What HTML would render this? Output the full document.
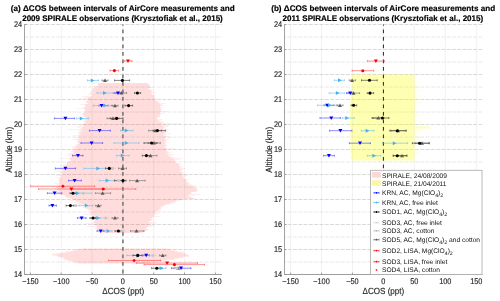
<!DOCTYPE html>
<html><head><meta charset="utf-8"><style>
html,body{margin:0;padding:0;background:#fff;}
svg{display:block;font-family:"Liberation Sans",sans-serif;will-change:transform;text-rendering:geometricPrecision;}
.t{stroke:#262626;stroke-width:0.14;}
</style></head><body>
<svg width="500" height="301" viewBox="0 0 500 301">
<rect width="500" height="301" fill="#fff"/>
<line x1="30.42" y1="24.5" x2="30.42" y2="274.5" stroke="#ebebeb" stroke-width="0.7"/>
<line x1="61.25" y1="24.5" x2="61.25" y2="274.5" stroke="#ebebeb" stroke-width="0.7"/>
<line x1="92.08" y1="24.5" x2="92.08" y2="274.5" stroke="#ebebeb" stroke-width="0.7"/>
<line x1="122.90" y1="24.5" x2="122.90" y2="274.5" stroke="#ebebeb" stroke-width="0.7"/>
<line x1="153.73" y1="24.5" x2="153.73" y2="274.5" stroke="#ebebeb" stroke-width="0.7"/>
<line x1="184.55" y1="24.5" x2="184.55" y2="274.5" stroke="#ebebeb" stroke-width="0.7"/>
<line x1="215.38" y1="24.5" x2="215.38" y2="274.5" stroke="#ebebeb" stroke-width="0.7"/>
<line x1="24.5" y1="274.5" x2="222.0" y2="274.5" stroke="#d0d0d0" stroke-width="0.8" stroke-dasharray="4 1.3" stroke-dashoffset="0"/>
<line x1="24.5" y1="249.5" x2="222.0" y2="249.5" stroke="#d0d0d0" stroke-width="0.8" stroke-dasharray="4 1.3" stroke-dashoffset="0"/>
<line x1="24.5" y1="224.5" x2="222.0" y2="224.5" stroke="#d0d0d0" stroke-width="0.8" stroke-dasharray="4 1.3" stroke-dashoffset="0"/>
<line x1="24.5" y1="199.5" x2="222.0" y2="199.5" stroke="#d0d0d0" stroke-width="0.8" stroke-dasharray="4 1.3" stroke-dashoffset="0"/>
<line x1="24.5" y1="174.5" x2="222.0" y2="174.5" stroke="#d0d0d0" stroke-width="0.8" stroke-dasharray="4 1.3" stroke-dashoffset="0"/>
<line x1="24.5" y1="149.5" x2="222.0" y2="149.5" stroke="#d0d0d0" stroke-width="0.8" stroke-dasharray="4 1.3" stroke-dashoffset="0"/>
<line x1="24.5" y1="124.5" x2="222.0" y2="124.5" stroke="#d0d0d0" stroke-width="0.8" stroke-dasharray="4 1.3" stroke-dashoffset="0"/>
<line x1="24.5" y1="99.5" x2="222.0" y2="99.5" stroke="#d0d0d0" stroke-width="0.8" stroke-dasharray="4 1.3" stroke-dashoffset="0"/>
<line x1="24.5" y1="74.5" x2="222.0" y2="74.5" stroke="#d0d0d0" stroke-width="0.8" stroke-dasharray="4 1.3" stroke-dashoffset="0"/>
<line x1="24.5" y1="49.5" x2="222.0" y2="49.5" stroke="#d0d0d0" stroke-width="0.8" stroke-dasharray="4 1.3" stroke-dashoffset="0"/>
<line x1="24.5" y1="24.5" x2="222.0" y2="24.5" stroke="#d0d0d0" stroke-width="0.8" stroke-dasharray="4 1.3" stroke-dashoffset="0"/>
<line x1="24.5" y1="262.0" x2="222.0" y2="262.0" stroke="#e2e2e2" stroke-width="0.8" stroke-dasharray="4 1.3" stroke-dashoffset="0"/>
<line x1="24.5" y1="237.0" x2="222.0" y2="237.0" stroke="#e2e2e2" stroke-width="0.8" stroke-dasharray="4 1.3" stroke-dashoffset="0"/>
<line x1="24.5" y1="212.0" x2="222.0" y2="212.0" stroke="#e2e2e2" stroke-width="0.8" stroke-dasharray="4 1.3" stroke-dashoffset="0"/>
<line x1="24.5" y1="187.0" x2="222.0" y2="187.0" stroke="#e2e2e2" stroke-width="0.8" stroke-dasharray="4 1.3" stroke-dashoffset="0"/>
<line x1="24.5" y1="162.0" x2="222.0" y2="162.0" stroke="#e2e2e2" stroke-width="0.8" stroke-dasharray="4 1.3" stroke-dashoffset="0"/>
<line x1="24.5" y1="137.0" x2="222.0" y2="137.0" stroke="#e2e2e2" stroke-width="0.8" stroke-dasharray="4 1.3" stroke-dashoffset="0"/>
<line x1="24.5" y1="112.0" x2="222.0" y2="112.0" stroke="#e2e2e2" stroke-width="0.8" stroke-dasharray="4 1.3" stroke-dashoffset="0"/>
<line x1="24.5" y1="87.0" x2="222.0" y2="87.0" stroke="#e2e2e2" stroke-width="0.8" stroke-dasharray="4 1.3" stroke-dashoffset="0"/>
<line x1="24.5" y1="62.0" x2="222.0" y2="62.0" stroke="#e2e2e2" stroke-width="0.8" stroke-dasharray="4 1.3" stroke-dashoffset="0"/>
<line x1="24.5" y1="37.0" x2="222.0" y2="37.0" stroke="#e2e2e2" stroke-width="0.8" stroke-dasharray="4 1.3" stroke-dashoffset="0"/>
<path d="M91.3 83.0H148.9V84.0H91.3ZM97.7 84.0H149.8V85.0H97.7ZM97.8 85.0H150.1V86.0H97.8ZM92.4 86.0H149.9V87.0H92.4ZM94.4 87.0H153.4V88.0H94.4ZM91.7 88.0H148.6V89.0H91.7ZM92.7 89.0H151.0V90.0H92.7ZM90.9 90.0H154.1V91.0H90.9ZM91.0 91.0H152.0V92.0H91.0ZM88.9 92.0H155.8V93.0H88.9ZM90.4 93.0H151.1V94.0H90.4ZM87.3 94.0H153.3V95.0H87.3ZM92.3 95.0H154.6V96.0H92.3ZM81.3 96.0H154.8V97.0H81.3ZM84.5 97.0H155.4V98.0H84.5ZM79.2 98.0H158.0V99.0H79.2ZM87.1 99.0H154.9V100.0H87.1ZM86.8 100.0H156.9V101.0H86.8ZM86.3 101.0H160.7V102.0H86.3ZM85.4 102.0H158.9V103.0H85.4ZM87.3 103.0H165.8V104.0H87.3ZM80.5 104.0H162.7V105.0H80.5ZM84.2 105.0H162.9V106.0H84.2ZM85.5 106.0H160.2V107.0H85.5ZM83.2 107.0H162.9V108.0H83.2ZM76.1 108.0H161.7V109.0H76.1ZM84.1 109.0H161.4V110.0H84.1ZM84.7 110.0H161.2V111.0H84.7ZM84.3 111.0H168.6V112.0H84.3ZM83.9 112.0H159.9V113.0H83.9ZM82.1 113.0H163.7V114.0H82.1ZM81.1 114.0H160.8V115.0H81.1ZM83.1 115.0H160.0V116.0H83.1ZM82.2 116.0H160.4V117.0H82.2ZM85.9 117.0H158.2V118.0H85.9ZM84.2 118.0H158.0V119.0H84.2ZM84.1 119.0H162.6V120.0H84.1ZM83.5 120.0H161.0V121.0H83.5ZM83.8 121.0H163.9V122.0H83.8ZM85.2 122.0H163.8V123.0H85.2ZM83.4 123.0H180.4V124.0H83.4ZM79.6 124.0H167.5V125.0H79.6ZM80.5 125.0H169.0V126.0H80.5ZM76.8 126.0H168.3V127.0H76.8ZM77.3 127.0H165.9V128.0H77.3ZM80.2 128.0H165.3V129.0H80.2ZM67.2 129.0H169.5V130.0H67.2ZM78.3 130.0H165.8V131.0H78.3ZM80.5 131.0H168.7V132.0H80.5ZM77.6 132.0H165.3V133.0H77.6ZM78.6 133.0H171.1V134.0H78.6ZM78.6 134.0H166.2V135.0H78.6ZM73.0 135.0H166.6V136.0H73.0ZM78.4 136.0H168.8V137.0H78.4ZM74.0 137.0H171.0V138.0H74.0ZM77.7 138.0H165.4V139.0H77.7ZM72.6 139.0H169.7V140.0H72.6ZM77.9 140.0H166.7V141.0H77.9ZM77.1 141.0H165.8V142.0H77.1ZM77.1 142.0H170.0V143.0H77.1ZM78.7 143.0H165.4V144.0H78.7ZM75.2 144.0H166.5V145.0H75.2ZM76.4 145.0H167.2V146.0H76.4ZM71.9 146.0H165.4V147.0H71.9ZM72.5 147.0H166.5V148.0H72.5ZM71.9 148.0H175.2V149.0H71.9ZM74.3 149.0H166.3V150.0H74.3ZM70.2 150.0H167.3V151.0H70.2ZM70.5 151.0H168.5V152.0H70.5ZM72.7 152.0H172.2V153.0H72.7ZM67.3 153.0H169.6V154.0H67.3ZM68.8 154.0H173.8V155.0H68.8ZM66.1 155.0H172.7V156.0H66.1ZM70.2 156.0H170.1V157.0H70.2ZM69.2 157.0H175.0V158.0H69.2ZM59.7 158.0H183.0V159.0H59.7ZM69.5 159.0H180.3V160.0H69.5ZM70.6 160.0H175.4V161.0H70.6ZM67.4 161.0H176.2V162.0H67.4ZM64.9 162.0H175.5V163.0H64.9ZM66.5 163.0H178.6V164.0H66.5ZM61.9 164.0H182.0V165.0H61.9ZM59.5 165.0H179.2V166.0H59.5ZM63.6 166.0H182.9V167.0H63.6ZM60.3 167.0H182.0V168.0H60.3ZM58.7 168.0H185.8V169.0H58.7ZM53.6 169.0H183.6V170.0H53.6ZM61.2 170.0H181.9V171.0H61.2ZM53.8 171.0H181.9V172.0H53.8ZM59.8 172.0H184.5V173.0H59.8ZM60.4 173.0H182.3V174.0H60.4ZM62.0 174.0H185.5V175.0H62.0ZM55.6 175.0H188.9V176.0H55.6ZM60.3 176.0H185.7V177.0H60.3ZM58.0 177.0H183.2V178.0H58.0ZM56.6 178.0H185.1V179.0H56.6ZM59.6 179.0H189.3V180.0H59.6ZM58.1 180.0H186.7V181.0H58.1ZM58.5 181.0H187.9V182.0H58.5ZM58.7 182.0H188.9V183.0H58.7ZM54.3 183.0H190.4V184.0H54.3ZM56.0 184.0H192.0V185.0H56.0ZM58.3 185.0H196.1V186.0H58.3ZM51.2 186.0H194.2V187.0H51.2ZM55.9 187.0H195.6V188.0H55.9ZM54.1 188.0H196.2V189.0H54.1ZM56.5 189.0H197.7V190.0H56.5ZM48.8 190.0H197.5V191.0H48.8ZM56.6 191.0H198.1V192.0H56.6ZM58.2 192.0H191.4V193.0H58.2ZM58.5 193.0H191.6V194.0H58.5ZM55.9 194.0H201.1V195.0H55.9ZM64.5 195.0H195.3V196.0H64.5ZM64.7 196.0H189.9V197.0H64.7ZM65.9 197.0H192.1V198.0H65.9ZM70.7 198.0H195.7V199.0H70.7ZM73.2 199.0H183.7V200.0H73.2ZM69.4 200.0H180.1V201.0H69.4ZM75.2 201.0H176.7V202.0H75.2ZM69.0 202.0H175.6V203.0H69.0ZM76.9 203.0H173.4V204.0H76.9ZM78.2 204.0H170.5V205.0H78.2ZM81.6 205.0H165.4V206.0H81.6ZM85.4 206.0H162.4V207.0H85.4ZM82.8 207.0H162.9V208.0H82.8ZM84.4 208.0H162.0V209.0H84.4ZM87.6 209.0H159.9V210.0H87.6ZM88.3 210.0H161.6V211.0H88.3ZM89.4 211.0H158.7V212.0H89.4ZM90.1 212.0H156.1V213.0H90.1ZM90.3 213.0H159.9V214.0H90.3ZM83.2 214.0H156.4V215.0H83.2ZM89.6 215.0H154.1V216.0H89.6ZM93.1 216.0H160.6V217.0H93.1ZM91.9 217.0H154.0V218.0H91.9ZM86.7 218.0H151.8V219.0H86.7ZM93.3 219.0H152.3V220.0H93.3ZM94.3 220.0H154.1V221.0H94.3ZM93.5 221.0H148.9V222.0H93.5ZM92.6 222.0H156.5V223.0H92.6ZM84.1 223.0H155.6V224.0H84.1ZM92.4 224.0H151.9V225.0H92.4ZM95.0 225.0H155.0V226.0H95.0ZM86.7 226.0H152.5V227.0H86.7ZM94.5 227.0H148.2V228.0H94.5ZM94.5 228.0H146.4V229.0H94.5ZM96.1 229.0H148.3V230.0H96.1ZM96.0 230.0H147.2V231.0H96.0ZM100.7 231.0H144.9V232.0H100.7ZM100.6 232.0H143.9V233.0H100.6Z" fill="#ff0000" fill-opacity="0.06"/>
<path d="M98.1 83.0H147.3V84.0H98.1ZM98.2 84.0H148.0V85.0H98.2ZM98.1 85.0H149.2V86.0H98.1ZM95.5 86.0H149.8V87.0H95.5ZM97.1 87.0H150.9V88.0H97.1ZM93.7 88.0H148.5V89.0H93.7ZM92.8 89.0H149.4V90.0H92.8ZM92.8 90.0H151.5V91.0H92.8ZM92.6 91.0H151.2V92.0H92.6ZM93.7 92.0H152.6V93.0H93.7ZM91.2 93.0H150.9V94.0H91.2ZM92.2 94.0H152.1V95.0H92.2ZM92.3 95.0H154.0V96.0H92.3ZM91.5 96.0H153.5V97.0H91.5ZM88.4 97.0H154.6V98.0H88.4ZM87.9 98.0H154.4V99.0H87.9ZM87.4 99.0H154.7V100.0H87.4ZM88.9 100.0H155.3V101.0H88.9ZM86.7 101.0H158.0V102.0H86.7ZM86.0 102.0H158.1V103.0H86.0ZM88.2 103.0H160.2V104.0H88.2ZM85.5 104.0H160.0V105.0H85.5ZM84.8 105.0H162.2V106.0H84.8ZM86.4 106.0H160.0V107.0H86.4ZM84.0 107.0H160.5V108.0H84.0ZM84.4 108.0H160.0V109.0H84.4ZM84.6 109.0H161.0V110.0H84.6ZM85.4 110.0H160.7V111.0H85.4ZM84.9 111.0H160.8V112.0H84.9ZM85.3 112.0H159.6V113.0H85.3ZM82.8 113.0H160.5V114.0H82.8ZM83.5 114.0H159.9V115.0H83.5ZM83.3 115.0H159.4V116.0H83.3ZM84.7 116.0H159.6V117.0H84.7ZM86.0 117.0H157.4V118.0H86.0ZM84.7 118.0H156.8V119.0H84.7ZM85.3 119.0H156.8V120.0H85.3ZM86.5 120.0H158.7V121.0H86.5ZM83.8 121.0H157.6V122.0H83.8ZM85.3 122.0H161.2V123.0H85.3ZM84.4 123.0H161.3V124.0H84.4ZM83.0 124.0H161.5V125.0H83.0ZM84.6 125.0H162.6V126.0H84.6ZM82.9 126.0H163.0V127.0H82.9ZM82.5 127.0H163.7V128.0H82.5ZM82.5 128.0H162.8V129.0H82.5ZM80.2 129.0H164.0V130.0H80.2ZM81.8 130.0H163.6V131.0H81.8ZM80.7 131.0H165.1V132.0H80.7ZM79.3 132.0H164.6V133.0H79.3ZM81.1 133.0H164.5V134.0H81.1ZM79.6 134.0H163.2V135.0H79.6ZM79.1 135.0H163.8V136.0H79.1ZM79.4 136.0H166.0V137.0H79.4ZM78.3 137.0H164.6V138.0H78.3ZM79.9 138.0H164.5V139.0H79.9ZM77.3 139.0H164.8V140.0H77.3ZM78.7 140.0H166.3V141.0H78.7ZM77.8 141.0H164.4V142.0H77.8ZM78.1 142.0H165.3V143.0H78.1ZM78.9 143.0H165.4V144.0H78.9ZM78.4 144.0H164.3V145.0H78.4ZM76.4 145.0H166.8V146.0H76.4ZM76.5 146.0H164.7V147.0H76.5ZM75.1 147.0H164.9V148.0H75.1ZM76.2 148.0H167.0V149.0H76.2ZM76.0 149.0H165.8V150.0H76.0ZM73.4 150.0H166.8V151.0H73.4ZM73.6 151.0H166.6V152.0H73.6ZM74.0 152.0H168.1V153.0H74.0ZM74.3 153.0H166.3V154.0H74.3ZM71.4 154.0H167.6V155.0H71.4ZM71.6 155.0H168.6V156.0H71.6ZM72.9 156.0H169.5V157.0H72.9ZM71.9 157.0H171.8V158.0H71.9ZM69.9 158.0H173.2V159.0H69.9ZM70.5 159.0H174.1V160.0H70.5ZM70.9 160.0H173.8V161.0H70.9ZM69.2 161.0H176.1V162.0H69.2ZM69.1 162.0H175.0V163.0H69.1ZM66.9 163.0H178.2V164.0H66.9ZM66.6 164.0H179.0V165.0H66.6ZM67.2 165.0H179.0V166.0H67.2ZM64.5 166.0H179.5V167.0H64.5ZM65.1 167.0H179.9V168.0H65.1ZM63.5 168.0H179.8V169.0H63.5ZM62.6 169.0H181.7V170.0H62.6ZM63.2 170.0H180.1V171.0H63.2ZM62.9 171.0H180.0V172.0H62.9ZM61.9 172.0H182.7V173.0H61.9ZM62.4 173.0H180.9V174.0H62.4ZM62.8 174.0H183.9V175.0H62.8ZM60.0 175.0H182.9V176.0H60.0ZM60.8 176.0H183.2V177.0H60.8ZM62.0 177.0H183.2V178.0H62.0ZM59.6 178.0H184.1V179.0H59.6ZM59.9 179.0H185.9V180.0H59.9ZM58.9 180.0H186.1V181.0H58.9ZM59.7 181.0H186.5V182.0H59.7ZM59.3 182.0H186.3V183.0H59.3ZM59.2 183.0H188.0V184.0H59.2ZM59.5 184.0H187.7V185.0H59.5ZM59.3 185.0H189.4V186.0H59.3ZM56.9 186.0H193.8V187.0H56.9ZM56.7 187.0H195.3V188.0H56.7ZM58.1 188.0H195.8V189.0H58.1ZM56.6 189.0H197.1V190.0H56.6ZM57.8 190.0H197.2V191.0H57.8ZM58.4 191.0H195.1V192.0H58.4ZM58.5 192.0H191.3V193.0H58.5ZM60.7 193.0H191.2V194.0H60.7ZM60.7 194.0H189.0V195.0H60.7ZM64.7 195.0H187.5V196.0H64.7ZM65.7 196.0H188.2V197.0H65.7ZM68.2 197.0H192.1V198.0H68.2ZM71.2 198.0H194.1V199.0H71.2ZM73.7 199.0H183.3V200.0H73.7ZM75.2 200.0H175.8V201.0H75.2ZM77.8 201.0H175.4V202.0H77.8ZM79.5 202.0H171.3V203.0H79.5ZM80.5 203.0H169.5V204.0H80.5ZM84.1 204.0H165.0V205.0H84.1ZM85.3 205.0H164.0V206.0H85.3ZM86.5 206.0H160.7V207.0H86.5ZM85.5 207.0H160.4V208.0H85.5ZM87.2 208.0H160.9V209.0H87.2ZM89.6 209.0H158.6V210.0H89.6ZM91.4 210.0H157.8V211.0H91.4ZM91.9 211.0H155.2V212.0H91.9ZM90.2 212.0H155.5V213.0H90.2ZM91.1 213.0H153.8V214.0H91.1ZM92.1 214.0H154.2V215.0H92.1ZM93.9 215.0H153.9V216.0H93.9ZM93.2 216.0H153.7V217.0H93.2ZM92.4 217.0H152.2V218.0H92.4ZM94.3 218.0H150.4V219.0H94.3ZM94.5 219.0H151.4V220.0H94.5ZM95.2 220.0H150.8V221.0H95.2ZM94.2 221.0H148.7V222.0H94.2ZM93.9 222.0H150.6V223.0H93.9ZM95.8 223.0H148.1V224.0H95.8ZM93.9 224.0H150.2V225.0H93.9ZM96.9 225.0H147.8V226.0H96.9ZM96.8 226.0H148.1V227.0H96.8ZM97.0 227.0H146.6V228.0H97.0ZM96.4 228.0H146.1V229.0H96.4ZM97.7 229.0H147.5V230.0H97.7ZM99.9 230.0H145.2V231.0H99.9ZM104.2 231.0H144.2V232.0H104.2ZM104.5 232.0H141.3V233.0H104.5Z" fill="#ff0000" fill-opacity="0.08"/>
<path d="M79.6 248.5H169.0V249.5H79.6ZM74.9 249.5H174.7V250.5H74.9ZM70.6 250.5H177.4V251.5H70.6ZM65.7 251.5H183.8V252.5H65.7ZM60.7 252.5H185.8V253.5H60.7ZM51.9 253.5H185.6V254.5H51.9ZM51.4 254.5H188.3V255.5H51.4ZM57.0 255.5H190.6V256.5H57.0ZM57.6 256.5H183.7V257.5H57.6ZM63.3 257.5H182.9V258.5H63.3ZM62.5 258.5H175.7V259.5H62.5ZM63.5 259.5H176.3V260.5H63.5ZM69.5 260.5H164.5V261.5H69.5ZM74.3 261.5H158.0V262.5H74.3ZM74.1 262.5H150.6V263.5H74.1Z" fill="#ff0000" fill-opacity="0.06"/>
<path d="M82.5 248.5H168.6V249.5H82.5ZM75.7 249.5H170.4V250.5H75.7ZM72.8 250.5H174.6V251.5H72.8ZM66.1 251.5H177.6V252.5H66.1ZM60.9 252.5H182.8V253.5H60.9ZM56.7 253.5H185.5V254.5H56.7ZM53.2 254.5H188.0V255.5H53.2ZM57.3 255.5H189.1V256.5H57.3ZM60.1 256.5H183.2V257.5H60.1ZM63.8 257.5H178.5V258.5H63.8ZM64.9 258.5H174.1V259.5H64.9ZM66.9 259.5H167.4V260.5H66.9ZM70.6 260.5H163.3V261.5H70.6ZM74.6 261.5H157.3V262.5H74.6ZM78.4 262.5H148.8V263.5H78.4Z" fill="#ff0000" fill-opacity="0.08"/>
<line x1="122.90" y1="24.5" x2="122.90" y2="274.5" stroke="#7a7a7a" stroke-width="1.6" stroke-dasharray="3.7 3.8" stroke-dashoffset="2.5"/>
<line x1="290.55" y1="24.5" x2="290.55" y2="274.5" stroke="#ebebeb" stroke-width="0.7"/>
<line x1="321.50" y1="24.5" x2="321.50" y2="274.5" stroke="#ebebeb" stroke-width="0.7"/>
<line x1="352.45" y1="24.5" x2="352.45" y2="274.5" stroke="#ebebeb" stroke-width="0.7"/>
<line x1="383.40" y1="24.5" x2="383.40" y2="274.5" stroke="#ebebeb" stroke-width="0.7"/>
<line x1="414.35" y1="24.5" x2="414.35" y2="274.5" stroke="#ebebeb" stroke-width="0.7"/>
<line x1="445.30" y1="24.5" x2="445.30" y2="274.5" stroke="#ebebeb" stroke-width="0.7"/>
<line x1="476.25" y1="24.5" x2="476.25" y2="274.5" stroke="#ebebeb" stroke-width="0.7"/>
<line x1="284.5" y1="274.5" x2="482.3" y2="274.5" stroke="#d0d0d0" stroke-width="0.8" stroke-dasharray="4 1.3" stroke-dashoffset="2.1"/>
<line x1="284.5" y1="249.5" x2="482.3" y2="249.5" stroke="#d0d0d0" stroke-width="0.8" stroke-dasharray="4 1.3" stroke-dashoffset="2.1"/>
<line x1="284.5" y1="224.5" x2="482.3" y2="224.5" stroke="#d0d0d0" stroke-width="0.8" stroke-dasharray="4 1.3" stroke-dashoffset="2.1"/>
<line x1="284.5" y1="199.5" x2="482.3" y2="199.5" stroke="#d0d0d0" stroke-width="0.8" stroke-dasharray="4 1.3" stroke-dashoffset="2.1"/>
<line x1="284.5" y1="174.5" x2="482.3" y2="174.5" stroke="#d0d0d0" stroke-width="0.8" stroke-dasharray="4 1.3" stroke-dashoffset="2.1"/>
<line x1="284.5" y1="149.5" x2="482.3" y2="149.5" stroke="#d0d0d0" stroke-width="0.8" stroke-dasharray="4 1.3" stroke-dashoffset="2.1"/>
<line x1="284.5" y1="124.5" x2="482.3" y2="124.5" stroke="#d0d0d0" stroke-width="0.8" stroke-dasharray="4 1.3" stroke-dashoffset="2.1"/>
<line x1="284.5" y1="99.5" x2="482.3" y2="99.5" stroke="#d0d0d0" stroke-width="0.8" stroke-dasharray="4 1.3" stroke-dashoffset="2.1"/>
<line x1="284.5" y1="74.5" x2="482.3" y2="74.5" stroke="#d0d0d0" stroke-width="0.8" stroke-dasharray="4 1.3" stroke-dashoffset="2.1"/>
<line x1="284.5" y1="49.5" x2="482.3" y2="49.5" stroke="#d0d0d0" stroke-width="0.8" stroke-dasharray="4 1.3" stroke-dashoffset="2.1"/>
<line x1="284.5" y1="24.5" x2="482.3" y2="24.5" stroke="#d0d0d0" stroke-width="0.8" stroke-dasharray="4 1.3" stroke-dashoffset="2.1"/>
<line x1="284.5" y1="262.0" x2="482.3" y2="262.0" stroke="#e2e2e2" stroke-width="0.8" stroke-dasharray="4 1.3" stroke-dashoffset="2.1"/>
<line x1="284.5" y1="237.0" x2="482.3" y2="237.0" stroke="#e2e2e2" stroke-width="0.8" stroke-dasharray="4 1.3" stroke-dashoffset="2.1"/>
<line x1="284.5" y1="212.0" x2="482.3" y2="212.0" stroke="#e2e2e2" stroke-width="0.8" stroke-dasharray="4 1.3" stroke-dashoffset="2.1"/>
<line x1="284.5" y1="187.0" x2="482.3" y2="187.0" stroke="#e2e2e2" stroke-width="0.8" stroke-dasharray="4 1.3" stroke-dashoffset="2.1"/>
<line x1="284.5" y1="162.0" x2="482.3" y2="162.0" stroke="#e2e2e2" stroke-width="0.8" stroke-dasharray="4 1.3" stroke-dashoffset="2.1"/>
<line x1="284.5" y1="137.0" x2="482.3" y2="137.0" stroke="#e2e2e2" stroke-width="0.8" stroke-dasharray="4 1.3" stroke-dashoffset="2.1"/>
<line x1="284.5" y1="112.0" x2="482.3" y2="112.0" stroke="#e2e2e2" stroke-width="0.8" stroke-dasharray="4 1.3" stroke-dashoffset="2.1"/>
<line x1="284.5" y1="87.0" x2="482.3" y2="87.0" stroke="#e2e2e2" stroke-width="0.8" stroke-dasharray="4 1.3" stroke-dashoffset="2.1"/>
<line x1="284.5" y1="62.0" x2="482.3" y2="62.0" stroke="#e2e2e2" stroke-width="0.8" stroke-dasharray="4 1.3" stroke-dashoffset="2.1"/>
<line x1="284.5" y1="37.0" x2="482.3" y2="37.0" stroke="#e2e2e2" stroke-width="0.8" stroke-dasharray="4 1.3" stroke-dashoffset="2.1"/>
<path d="M351.6 74.5H415.7V75.5H351.6ZM351.3 75.5H416.0V76.5H351.3ZM352.4 76.5H414.8V77.5H352.4ZM351.7 77.5H414.1V78.5H351.7ZM349.0 78.5H416.5V79.5H349.0ZM352.7 79.5H415.1V80.5H352.7ZM350.7 80.5H414.7V81.5H350.7ZM351.7 81.5H420.3V82.5H351.7ZM351.9 82.5H415.7V83.5H351.9ZM350.8 83.5H414.2V84.5H350.8ZM350.7 84.5H418.8V85.5H350.7ZM351.9 85.5H417.4V86.5H351.9ZM350.7 86.5H414.7V87.5H350.7ZM352.2 87.5H415.7V88.5H352.2ZM349.2 88.5H415.2V89.5H349.2ZM350.5 89.5H424.7V90.5H350.5ZM351.2 90.5H417.3V91.5H351.2ZM350.8 91.5H416.6V92.5H350.8ZM350.8 92.5H419.7V93.5H350.8ZM350.9 93.5H414.7V94.5H350.9ZM349.9 94.5H415.8V95.5H349.9ZM350.1 95.5H421.6V96.5H350.1ZM349.1 96.5H417.0V97.5H349.1ZM351.0 97.5H415.1V98.5H351.0ZM351.0 98.5H417.7V99.5H351.0ZM349.9 99.5H414.6V100.5H349.9ZM349.9 100.5H414.6V101.5H349.9ZM348.8 101.5H423.3V102.5H348.8ZM350.6 102.5H421.4V103.5H350.6ZM350.5 103.5H415.2V104.5H350.5ZM349.8 104.5H416.8V105.5H349.8ZM349.4 105.5H415.3V106.5H349.4ZM349.7 106.5H414.1V107.5H349.7ZM350.6 107.5H416.9V108.5H350.6ZM350.1 108.5H415.4V109.5H350.1ZM349.1 109.5H415.2V110.5H349.1ZM349.9 110.5H415.1V111.5H349.9ZM349.4 111.5H415.0V112.5H349.4ZM350.1 112.5H414.6V113.5H350.1ZM349.7 113.5H416.6V114.5H349.7ZM349.8 114.5H418.2V115.5H349.8ZM350.6 115.5H415.9V116.5H350.6ZM349.7 116.5H417.2V117.5H349.7ZM349.8 117.5H414.5V118.5H349.8ZM349.0 118.5H414.7V119.5H349.0ZM348.8 119.5H414.4V120.5H348.8ZM349.8 120.5H421.6V121.5H349.8ZM349.7 121.5H416.1V122.5H349.7ZM347.9 122.5H415.4V123.5H347.9ZM350.1 123.5H414.8V124.5H350.1ZM349.1 124.5H415.7V125.5H349.1ZM350.0 125.5H414.7V126.5H350.0ZM350.1 126.5H429.4V127.5H350.1ZM349.7 127.5H431.6V128.5H349.7ZM350.5 128.5H414.9V129.5H350.5ZM349.8 129.5H421.2V130.5H349.8ZM349.6 130.5H416.8V131.5H349.6ZM350.4 131.5H417.5V132.5H350.4ZM350.0 132.5H417.0V133.5H350.0ZM349.9 133.5H416.6V134.5H349.9ZM348.6 134.5H414.6V135.5H348.6ZM350.0 135.5H414.1V136.5H350.0ZM350.4 136.5H419.8V137.5H350.4ZM350.7 137.5H420.8V138.5H350.7ZM350.5 138.5H415.9V139.5H350.5ZM349.2 139.5H414.6V140.5H349.2ZM350.2 140.5H416.9V141.5H350.2ZM350.1 141.5H415.2V142.5H350.1ZM350.9 142.5H416.1V143.5H350.9ZM350.2 143.5H414.3V144.5H350.2ZM350.4 144.5H418.2V145.5H350.4ZM351.3 145.5H415.8V146.5H351.3ZM349.7 146.5H414.7V147.5H349.7ZM350.2 147.5H414.9V148.5H350.2ZM350.7 148.5H414.8V149.5H350.7ZM351.0 149.5H414.5V150.5H351.0ZM350.3 150.5H414.4V151.5H350.3ZM350.2 151.5H419.1V152.5H350.2ZM350.5 152.5H419.2V153.5H350.5ZM351.4 153.5H414.4V154.5H351.4ZM351.1 154.5H415.5V155.5H351.1ZM351.5 155.5H414.8V156.5H351.5ZM350.0 156.5H414.3V157.5H350.0ZM350.3 157.5H414.5V158.5H350.3ZM351.1 158.5H415.0V159.5H351.1ZM351.6 159.5H414.4V160.5H351.6Z" fill="#ffff00" fill-opacity="0.14"/>
<path d="M352.1 74.5H414.2V75.5H352.1ZM352.1 75.5H414.4V76.5H352.1ZM352.4 76.5H413.7V77.5H352.4ZM352.5 77.5H413.6V78.5H352.5ZM352.0 78.5H413.5V79.5H352.0ZM352.7 79.5H414.2V80.5H352.7ZM352.3 80.5H413.7V81.5H352.3ZM351.8 81.5H414.5V82.5H351.8ZM352.1 82.5H414.2V83.5H352.1ZM351.8 83.5H413.6V84.5H351.8ZM352.4 84.5H413.9V85.5H352.4ZM352.4 85.5H414.5V86.5H352.4ZM351.6 86.5H414.2V87.5H351.6ZM352.5 87.5H414.7V88.5H352.5ZM351.8 88.5H414.1V89.5H351.8ZM351.2 89.5H413.8V90.5H351.2ZM351.6 90.5H414.3V91.5H351.6ZM351.2 91.5H414.5V92.5H351.2ZM351.0 92.5H414.0V93.5H351.0ZM351.1 93.5H414.5V94.5H351.1ZM350.6 94.5H414.8V95.5H350.6ZM351.2 95.5H414.6V96.5H351.2ZM350.8 96.5H415.0V97.5H350.8ZM351.2 97.5H414.4V98.5H351.2ZM351.1 98.5H414.1V99.5H351.1ZM350.8 99.5H414.5V100.5H350.8ZM350.2 100.5H414.2V101.5H350.2ZM350.0 101.5H414.3V102.5H350.0ZM350.8 102.5H414.4V103.5H350.8ZM350.5 103.5H414.7V104.5H350.5ZM350.9 104.5H414.8V105.5H350.9ZM350.3 105.5H414.5V106.5H350.3ZM350.5 106.5H414.1V107.5H350.5ZM350.6 107.5H414.9V108.5H350.6ZM350.6 108.5H414.8V109.5H350.6ZM350.3 109.5H414.9V110.5H350.3ZM349.9 110.5H413.8V111.5H349.9ZM349.9 111.5H414.7V112.5H349.9ZM350.4 112.5H414.0V113.5H350.4ZM349.9 113.5H413.9V114.5H349.9ZM350.4 114.5H413.7V115.5H350.4ZM350.7 115.5H414.5V116.5H350.7ZM349.8 116.5H414.5V117.5H349.8ZM350.0 117.5H414.4V118.5H350.0ZM350.2 118.5H413.9V119.5H350.2ZM350.3 119.5H414.2V120.5H350.3ZM350.4 120.5H414.1V121.5H350.4ZM350.1 121.5H414.3V122.5H350.1ZM349.8 122.5H414.4V123.5H349.8ZM350.1 123.5H414.6V124.5H350.1ZM349.9 124.5H414.4V125.5H349.9ZM350.5 125.5H413.4V126.5H350.5ZM350.4 126.5H428.9V127.5H350.4ZM349.8 127.5H428.9V128.5H349.8ZM350.8 128.5H414.3V129.5H350.8ZM350.3 129.5H414.0V130.5H350.3ZM349.9 130.5H414.0V131.5H349.9ZM350.9 131.5H414.3V132.5H350.9ZM350.6 132.5H414.4V133.5H350.6ZM350.1 133.5H414.5V134.5H350.1ZM350.8 134.5H414.6V135.5H350.8ZM350.2 135.5H413.8V136.5H350.2ZM350.5 136.5H413.5V137.5H350.5ZM350.8 137.5H414.0V138.5H350.8ZM350.7 138.5H413.6V139.5H350.7ZM350.7 139.5H413.7V140.5H350.7ZM350.3 140.5H414.4V141.5H350.3ZM350.2 141.5H414.1V142.5H350.2ZM351.2 142.5H414.0V143.5H351.2ZM350.4 143.5H413.6V144.5H350.4ZM350.4 144.5H414.6V145.5H350.4ZM351.3 145.5H414.2V146.5H351.3ZM350.3 146.5H414.1V147.5H350.3ZM350.3 147.5H414.1V148.5H350.3ZM350.9 148.5H414.5V149.5H350.9ZM351.3 149.5H414.4V150.5H351.3ZM350.7 150.5H413.9V151.5H350.7ZM351.4 151.5H414.4V152.5H351.4ZM350.6 152.5H414.1V153.5H350.6ZM351.5 153.5H414.3V154.5H351.5ZM351.6 154.5H414.1V155.5H351.6ZM351.6 155.5H413.8V156.5H351.6ZM351.1 156.5H414.2V157.5H351.1ZM350.9 157.5H414.0V158.5H350.9ZM351.2 158.5H413.5V159.5H351.2ZM351.7 159.5H414.2V160.5H351.7Z" fill="#ffff00" fill-opacity="0.19"/>
<line x1="383.40" y1="24.5" x2="383.40" y2="274.5" stroke="#222" stroke-width="1.0" stroke-dasharray="3.7 3.8" stroke-dashoffset="2.5"/>
<path d="M124.0 61.0H132.0M124.0 60.0V62.0M132.0 60.0V62.0" stroke="#ff4a4a" stroke-width="0.6" fill="none"/>
<polygon points="126.0,59.4 130.0,59.4 128.0,62.9" fill="#ff0000"/>
<path d="M110.0 70.6H118.6M110.0 69.6V71.6M118.6 69.6V71.6" stroke="#ff4a4a" stroke-width="0.6" fill="none"/>
<circle cx="114.4" cy="70.6" r="1.55" fill="#ff0000"/>
<path d="M87.4 80.4H98.6M87.4 79.4V81.4M98.6 79.4V81.4" stroke="#62bff0" stroke-width="0.6" fill="none"/>
<path d="M102.0 80.4H108.0M102.0 79.4V81.4M108.0 79.4V81.4" stroke="#6a6a6a" stroke-width="0.6" fill="none"/>
<path d="M114.6 80.4H129.6M114.6 79.4V81.4M129.6 79.4V81.4" stroke="#333333" stroke-width="0.6" fill="none"/>
<polygon points="90.8,78.4 90.8,82.4 94.4,80.4" fill="#45b1ea"/>
<polygon points="103.0,82.0 107.0,82.0 105.0,78.5" fill="#5a5a5a"/>
<circle cx="122.4" cy="80.4" r="1.55" fill="#000000"/>
<path d="M114.0 93.0H122.0M114.0 92.0V94.0M122.0 92.0V94.0" stroke="#3a3aff" stroke-width="0.6" fill="none"/>
<path d="M97.0 93.0H113.0M97.0 92.0V94.0M113.0 92.0V94.0" stroke="#62bff0" stroke-width="0.6" fill="none"/>
<path d="M116.0 93.0H126.6M116.0 92.0V94.0M126.6 92.0V94.0" stroke="#6a6a6a" stroke-width="0.6" fill="none"/>
<path d="M134.6 93.0H140.6M134.6 92.0V94.0M140.6 92.0V94.0" stroke="#333333" stroke-width="0.6" fill="none"/>
<polygon points="116.0,91.4 120.0,91.4 118.0,94.9" fill="#0000ff"/>
<polygon points="103.0,91.0 103.0,95.0 106.6,93.0" fill="#45b1ea"/>
<polygon points="119.4,94.6 123.4,94.6 121.4,91.1" fill="#5a5a5a"/>
<circle cx="137.4" cy="93.0" r="1.55" fill="#000000"/>
<path d="M99.0 105.6H108.0M99.0 104.6V106.6M108.0 104.6V106.6" stroke="#3a3aff" stroke-width="0.6" fill="none"/>
<path d="M93.4 105.6H112.0M93.4 104.6V106.6M112.0 104.6V106.6" stroke="#62bff0" stroke-width="0.6" fill="none"/>
<path d="M112.0 105.6H118.0M112.0 104.6V106.6M118.0 104.6V106.6" stroke="#6a6a6a" stroke-width="0.6" fill="none"/>
<path d="M125.0 105.6H132.6M125.0 104.6V106.6M132.6 104.6V106.6" stroke="#333333" stroke-width="0.6" fill="none"/>
<polygon points="99.6,104.0 103.6,104.0 101.6,107.5" fill="#0000ff"/>
<polygon points="103.4,103.6 103.4,107.6 107.0,105.6" fill="#45b1ea"/>
<polygon points="113.0,107.2 117.0,107.2 115.0,103.7" fill="#5a5a5a"/>
<circle cx="128.6" cy="105.6" r="1.55" fill="#000000"/>
<path d="M54.4 118.4H74.4M54.4 117.4V119.4M74.4 117.4V119.4" stroke="#3a3aff" stroke-width="0.6" fill="none"/>
<path d="M76.4 118.4H88.4M76.4 117.4V119.4M88.4 117.4V119.4" stroke="#62bff0" stroke-width="0.6" fill="none"/>
<path d="M107.0 118.4H119.0M107.0 117.4V119.4M119.0 117.4V119.4" stroke="#6a6a6a" stroke-width="0.6" fill="none"/>
<path d="M110.0 118.4H123.0M110.0 117.4V119.4M123.0 117.4V119.4" stroke="#333333" stroke-width="0.6" fill="none"/>
<polygon points="63.4,116.8 67.4,116.8 65.4,120.3" fill="#0000ff"/>
<polygon points="79.8,116.4 79.8,120.4 83.4,118.4" fill="#45b1ea"/>
<polygon points="111.0,120.0 115.0,120.0 113.0,116.5" fill="#5a5a5a"/>
<circle cx="116.6" cy="118.4" r="1.55" fill="#000000"/>
<path d="M89.4 130.6H110.4M89.4 129.6V131.6M110.4 129.6V131.6" stroke="#3a3aff" stroke-width="0.6" fill="none"/>
<path d="M120.4 130.6H133.0M120.4 129.6V131.6M133.0 129.6V131.6" stroke="#62bff0" stroke-width="0.6" fill="none"/>
<path d="M148.7 130.6H161.5M148.7 129.6V131.6M161.5 129.6V131.6" stroke="#6a6a6a" stroke-width="0.6" fill="none"/>
<path d="M153.0 130.6H165.6M153.0 129.6V131.6M165.6 129.6V131.6" stroke="#333333" stroke-width="0.6" fill="none"/>
<polygon points="97.6,129.0 101.6,129.0 99.6,132.5" fill="#0000ff"/>
<polygon points="124.8,128.6 124.8,132.6 128.4,130.6" fill="#45b1ea"/>
<polygon points="153.1,132.2 157.1,132.2 155.1,128.7" fill="#5a5a5a"/>
<circle cx="157.4" cy="130.6" r="1.55" fill="#000000"/>
<path d="M81.0 143.0H102.6M81.0 142.0V144.0M102.6 142.0V144.0" stroke="#3a3aff" stroke-width="0.6" fill="none"/>
<path d="M114.0 143.0H139.0M114.0 142.0V144.0M139.0 142.0V144.0" stroke="#62bff0" stroke-width="0.6" fill="none"/>
<path d="M148.0 143.0H160.3M148.0 142.0V144.0M160.3 142.0V144.0" stroke="#6a6a6a" stroke-width="0.6" fill="none"/>
<path d="M144.0 143.0H157.0M144.0 142.0V144.0M157.0 142.0V144.0" stroke="#333333" stroke-width="0.6" fill="none"/>
<polygon points="89.6,141.4 93.6,141.4 91.6,144.9" fill="#0000ff"/>
<polygon points="124.8,141.0 124.8,145.0 128.4,143.0" fill="#45b1ea"/>
<polygon points="152.0,144.6 156.0,144.6 154.0,141.1" fill="#5a5a5a"/>
<circle cx="151.6" cy="143.0" r="1.55" fill="#000000"/>
<path d="M72.6 155.6H83.0M72.6 154.6V156.6M83.0 154.6V156.6" stroke="#3a3aff" stroke-width="0.6" fill="none"/>
<path d="M116.4 155.6H129.0M116.4 154.6V156.6M129.0 154.6V156.6" stroke="#62bff0" stroke-width="0.6" fill="none"/>
<path d="M146.0 155.6H156.9M146.0 154.6V156.6M156.9 154.6V156.6" stroke="#6a6a6a" stroke-width="0.6" fill="none"/>
<path d="M142.3 155.6H150.5M142.3 154.6V156.6M150.5 154.6V156.6" stroke="#333333" stroke-width="0.6" fill="none"/>
<polygon points="76.0,154.0 80.0,154.0 78.0,157.5" fill="#0000ff"/>
<polygon points="120.8,153.6 120.8,157.6 124.4,155.6" fill="#45b1ea"/>
<polygon points="148.5,157.2 152.5,157.2 150.5,153.7" fill="#5a5a5a"/>
<circle cx="146.4" cy="155.6" r="1.55" fill="#000000"/>
<path d="M55.4 168.4H75.6M55.4 167.4V169.4M75.6 167.4V169.4" stroke="#3a3aff" stroke-width="0.6" fill="none"/>
<path d="M84.0 168.4H105.3M84.0 167.4V169.4M105.3 167.4V169.4" stroke="#62bff0" stroke-width="0.6" fill="none"/>
<path d="M118.5 168.4H126.5M118.5 167.4V169.4M126.5 167.4V169.4" stroke="#6a6a6a" stroke-width="0.6" fill="none"/>
<path d="M110.0 168.4H115.0M110.0 167.4V169.4M115.0 167.4V169.4" stroke="#cfcfcf" stroke-width="0.6" fill="none"/>
<path d="M105.7 168.4H112.0M105.7 167.4V169.4M112.0 167.4V169.4" stroke="#333333" stroke-width="0.6" fill="none"/>
<polygon points="63.4,166.8 67.4,166.8 65.4,170.3" fill="#0000ff"/>
<polygon points="96.4,166.4 96.4,170.4 100.0,168.4" fill="#45b1ea"/>
<polygon points="120.5,170.0 124.5,170.0 122.5,166.5" fill="#5a5a5a"/>
<circle cx="112.6" cy="168.4" r="1.55" fill="#c8c8c8"/>
<circle cx="109.3" cy="168.4" r="1.55" fill="#000000"/>
<path d="M68.5 180.6H81.3M68.5 179.6V181.6M81.3 179.6V181.6" stroke="#3a3aff" stroke-width="0.6" fill="none"/>
<path d="M99.3 180.6H114.0M99.3 179.6V181.6M114.0 179.6V181.6" stroke="#62bff0" stroke-width="0.6" fill="none"/>
<path d="M129.6 180.6H145.1M129.6 179.6V181.6M145.1 179.6V181.6" stroke="#6a6a6a" stroke-width="0.6" fill="none"/>
<path d="M116.0 180.6H121.0M116.0 179.6V181.6M121.0 179.6V181.6" stroke="#cfcfcf" stroke-width="0.6" fill="none"/>
<path d="M114.6 180.6H126.0M114.6 179.6V181.6M126.0 179.6V181.6" stroke="#333333" stroke-width="0.6" fill="none"/>
<polygon points="72.6,179.0 76.6,179.0 74.6,182.5" fill="#0000ff"/>
<polygon points="105.7,178.6 105.7,182.6 109.3,180.6" fill="#45b1ea"/>
<polygon points="135.1,182.2 139.1,182.2 137.1,178.7" fill="#5a5a5a"/>
<circle cx="118.6" cy="180.6" r="1.55" fill="#c8c8c8"/>
<circle cx="123.0" cy="180.6" r="1.55" fill="#000000"/>
<path d="M30.6 186.2H94.6M30.6 185.2V187.2M94.6 185.2V187.2" stroke="#ff4a4a" stroke-width="0.6" fill="none"/>
<polygon points="61.1,186.2 62.9,184.4 64.7,186.2 62.9,188.0" fill="#ff0000"/>
<path d="M38.6 189.0H104.2M38.6 188.0V190.0M104.2 188.0V190.0" stroke="#ff4a4a" stroke-width="0.6" fill="none"/>
<path d="M70.2 189.0H135.8M70.2 188.0V190.0M135.8 188.0V190.0" stroke="#ff4a4a" stroke-width="0.6" fill="none"/>
<polygon points="69.4,187.4 73.4,187.4 71.4,190.9" fill="#ff0000"/>
<circle cx="103.2" cy="189.0" r="1.55" fill="#ff0000"/>
<path d="M47.4 193.2H61.8M47.4 192.2V194.2M61.8 192.2V194.2" stroke="#3a3aff" stroke-width="0.6" fill="none"/>
<path d="M72.0 193.2H91.8M72.0 192.2V194.2M91.8 192.2V194.2" stroke="#62bff0" stroke-width="0.6" fill="none"/>
<path d="M95.3 193.2H110.6M95.3 192.2V194.2M110.6 192.2V194.2" stroke="#6a6a6a" stroke-width="0.6" fill="none"/>
<path d="M80.0 193.2H91.4M80.0 192.2V194.2M91.4 192.2V194.2" stroke="#cfcfcf" stroke-width="0.6" fill="none"/>
<path d="M70.0 193.2H76.0M70.0 192.2V194.2M76.0 192.2V194.2" stroke="#333333" stroke-width="0.6" fill="none"/>
<polygon points="52.6,191.6 56.6,191.6 54.6,195.1" fill="#0000ff"/>
<polygon points="76.0,191.2 76.0,195.2 79.6,193.2" fill="#45b1ea"/>
<polygon points="100.6,194.8 104.6,194.8 102.6,191.3" fill="#5a5a5a"/>
<circle cx="83.4" cy="193.2" r="1.55" fill="#c8c8c8"/>
<circle cx="73.0" cy="193.2" r="1.55" fill="#000000"/>
<path d="M49.0 205.6H56.4M49.0 204.6V206.6M56.4 204.6V206.6" stroke="#3a3aff" stroke-width="0.6" fill="none"/>
<path d="M79.0 205.6H93.0M79.0 204.6V206.6M93.0 204.6V206.6" stroke="#62bff0" stroke-width="0.6" fill="none"/>
<path d="M95.6 205.6H101.0M95.6 204.6V206.6M101.0 204.6V206.6" stroke="#6a6a6a" stroke-width="0.6" fill="none"/>
<path d="M73.0 205.6H78.0M73.0 204.6V206.6M78.0 204.6V206.6" stroke="#cfcfcf" stroke-width="0.6" fill="none"/>
<path d="M66.0 205.6H74.0M66.0 204.6V206.6M74.0 204.6V206.6" stroke="#333333" stroke-width="0.6" fill="none"/>
<polygon points="50.4,204.0 54.4,204.0 52.4,207.5" fill="#0000ff"/>
<polygon points="84.8,203.6 84.8,207.6 88.4,205.6" fill="#45b1ea"/>
<polygon points="96.4,207.2 100.4,207.2 98.4,203.7" fill="#5a5a5a"/>
<circle cx="75.6" cy="205.6" r="1.55" fill="#c8c8c8"/>
<circle cx="70.4" cy="205.6" r="1.55" fill="#000000"/>
<path d="M77.4 218.0H86.0M77.4 217.0V219.0M86.0 217.0V219.0" stroke="#3a3aff" stroke-width="0.6" fill="none"/>
<path d="M95.0 218.0H101.0M95.0 217.0V219.0M101.0 217.0V219.0" stroke="#62bff0" stroke-width="0.6" fill="none"/>
<path d="M112.0 218.0H118.0M112.0 217.0V219.0M118.0 217.0V219.0" stroke="#6a6a6a" stroke-width="0.6" fill="none"/>
<path d="M103.0 218.0H108.0M103.0 217.0V219.0M108.0 217.0V219.0" stroke="#cfcfcf" stroke-width="0.6" fill="none"/>
<path d="M90.0 218.0H96.0M90.0 217.0V219.0M96.0 217.0V219.0" stroke="#333333" stroke-width="0.6" fill="none"/>
<polygon points="79.6,216.4 83.6,216.4 81.6,219.9" fill="#0000ff"/>
<polygon points="96.4,216.0 96.4,220.0 100.0,218.0" fill="#45b1ea"/>
<polygon points="113.0,219.6 117.0,219.6 115.0,216.1" fill="#5a5a5a"/>
<circle cx="105.6" cy="218.0" r="1.55" fill="#c8c8c8"/>
<circle cx="93.0" cy="218.0" r="1.55" fill="#000000"/>
<path d="M97.0 231.0H104.0M97.0 230.0V232.0M104.0 230.0V232.0" stroke="#3a3aff" stroke-width="0.6" fill="none"/>
<path d="M105.0 231.0H112.0M105.0 230.0V232.0M112.0 230.0V232.0" stroke="#62bff0" stroke-width="0.6" fill="none"/>
<path d="M130.5 231.0H143.9M130.5 230.0V232.0M143.9 230.0V232.0" stroke="#6a6a6a" stroke-width="0.6" fill="none"/>
<path d="M120.0 231.0H125.0M120.0 230.0V232.0M125.0 230.0V232.0" stroke="#cfcfcf" stroke-width="0.6" fill="none"/>
<path d="M115.0 231.0H122.0M115.0 230.0V232.0M122.0 230.0V232.0" stroke="#333333" stroke-width="0.6" fill="none"/>
<polygon points="98.7,229.4 102.7,229.4 100.7,232.9" fill="#0000ff"/>
<polygon points="106.6,229.0 106.6,233.0 110.2,231.0" fill="#45b1ea"/>
<polygon points="134.5,232.6 138.5,232.6 136.5,229.1" fill="#5a5a5a"/>
<circle cx="122.3" cy="231.0" r="1.55" fill="#c8c8c8"/>
<circle cx="118.4" cy="231.0" r="1.55" fill="#000000"/>
<path d="M143.0 255.4H149.5M143.0 254.4V256.4M149.5 254.4V256.4" stroke="#3a3aff" stroke-width="0.6" fill="none"/>
<path d="M126.8 255.4H149.0M126.8 254.4V256.4M149.0 254.4V256.4" stroke="#62bff0" stroke-width="0.6" fill="none"/>
<path d="M159.6 255.4H166.0M159.6 254.4V256.4M166.0 254.4V256.4" stroke="#6a6a6a" stroke-width="0.6" fill="none"/>
<path d="M150.0 255.4H156.0M150.0 254.4V256.4M156.0 254.4V256.4" stroke="#cfcfcf" stroke-width="0.6" fill="none"/>
<path d="M133.0 255.4H142.0M133.0 254.4V256.4M142.0 254.4V256.4" stroke="#333333" stroke-width="0.6" fill="none"/>
<polygon points="144.2,253.8 148.2,253.8 146.2,257.3" fill="#0000ff"/>
<polygon points="136.4,253.4 136.4,257.4 140.0,255.4" fill="#45b1ea"/>
<polygon points="160.7,257.0 164.7,257.0 162.7,253.5" fill="#5a5a5a"/>
<circle cx="152.8" cy="255.4" r="1.55" fill="#c8c8c8"/>
<circle cx="137.8" cy="255.4" r="1.55" fill="#000000"/>
<path d="M108.4 260.5H160.5M108.4 259.5V261.5M160.5 259.5V261.5" stroke="#ff4a4a" stroke-width="0.6" fill="none"/>
<polygon points="132.3,260.5 134.1,258.7 135.9,260.5 134.1,262.3" fill="#ff0000"/>
<path d="M136.3 263.1H197.5M136.3 262.1V264.1M197.5 262.1V264.1" stroke="#ff4a4a" stroke-width="0.6" fill="none"/>
<polygon points="165.1,261.5 169.1,261.5 167.1,265.0" fill="#ff0000"/>
<path d="M144.0 264.6H204.5M144.0 263.6V265.6M204.5 263.6V265.6" stroke="#ff4a4a" stroke-width="0.6" fill="none"/>
<circle cx="174.4" cy="264.6" r="1.55" fill="#ff0000"/>
<path d="M171.5 268.2H190.9M171.5 267.2V269.2M190.9 267.2V269.2" stroke="#3a3aff" stroke-width="0.6" fill="none"/>
<path d="M156.0 268.2H166.0M156.0 267.2V269.2M166.0 267.2V269.2" stroke="#62bff0" stroke-width="0.6" fill="none"/>
<path d="M174.0 268.2H182.0M174.0 267.2V269.2M182.0 267.2V269.2" stroke="#6a6a6a" stroke-width="0.6" fill="none"/>
<path d="M174.0 268.2H180.0M174.0 267.2V269.2M180.0 267.2V269.2" stroke="#cfcfcf" stroke-width="0.6" fill="none"/>
<path d="M151.7 268.2H162.0M151.7 267.2V269.2M162.0 267.2V269.2" stroke="#333333" stroke-width="0.6" fill="none"/>
<polygon points="179.0,266.6 183.0,266.6 181.0,270.1" fill="#0000ff"/>
<polygon points="159.6,266.2 159.6,270.2 163.2,268.2" fill="#45b1ea"/>
<polygon points="176.0,269.8 180.0,269.8 178.0,266.3" fill="#5a5a5a"/>
<circle cx="177.0" cy="268.2" r="1.55" fill="#c8c8c8"/>
<circle cx="156.8" cy="268.2" r="1.55" fill="#000000"/>
<path d="M367.3 61.1H384.4M367.3 60.1V62.1M384.4 60.1V62.1" stroke="#ff4a4a" stroke-width="0.6" fill="none"/>
<polygon points="373.9,59.5 377.9,59.5 375.9,63.0" fill="#ff0000"/>
<path d="M352.1 70.7H373.7M352.1 69.7V71.7M373.7 69.7V71.7" stroke="#ff4a4a" stroke-width="0.6" fill="none"/>
<circle cx="362.8" cy="70.7" r="1.55" fill="#ff0000"/>
<path d="M334.3 80.3H344.4M334.3 79.3V81.3M344.4 79.3V81.3" stroke="#62bff0" stroke-width="0.6" fill="none"/>
<path d="M349.2 80.3H355.6M349.2 79.3V81.3M355.6 79.3V81.3" stroke="#6a6a6a" stroke-width="0.6" fill="none"/>
<path d="M361.5 80.3H377.2M361.5 79.3V81.3M377.2 79.3V81.3" stroke="#333333" stroke-width="0.6" fill="none"/>
<polygon points="338.0,78.3 338.0,82.3 341.6,80.3" fill="#45b1ea"/>
<polygon points="350.1,81.9 354.1,81.9 352.1,78.4" fill="#5a5a5a"/>
<circle cx="369.5" cy="80.3" r="1.55" fill="#000000"/>
<path d="M346.5 93.1H354.0M346.5 92.1V94.1M354.0 92.1V94.1" stroke="#3a3aff" stroke-width="0.6" fill="none"/>
<path d="M329.2 93.1H344.4M329.2 92.1V94.1M344.4 92.1V94.1" stroke="#62bff0" stroke-width="0.6" fill="none"/>
<path d="M348.0 93.1H359.6M348.0 92.1V94.1M359.6 92.1V94.1" stroke="#6a6a6a" stroke-width="0.6" fill="none"/>
<path d="M367.3 93.1H373.7M367.3 92.1V94.1M373.7 92.1V94.1" stroke="#333333" stroke-width="0.6" fill="none"/>
<polygon points="348.3,91.5 352.3,91.5 350.3,95.0" fill="#0000ff"/>
<polygon points="335.9,91.1 335.9,95.1 339.5,93.1" fill="#45b1ea"/>
<polygon points="351.5,94.7 355.5,94.7 353.5,91.2" fill="#5a5a5a"/>
<circle cx="370.0" cy="93.1" r="1.55" fill="#000000"/>
<path d="M324.0 105.3H334.0M324.0 104.3V106.3M334.0 104.3V106.3" stroke="#3a3aff" stroke-width="0.6" fill="none"/>
<path d="M317.6 105.3H337.0M317.6 104.3V106.3M337.0 104.3V106.3" stroke="#62bff0" stroke-width="0.6" fill="none"/>
<path d="M337.0 105.3H343.0M337.0 104.3V106.3M343.0 104.3V106.3" stroke="#6a6a6a" stroke-width="0.6" fill="none"/>
<path d="M351.2 105.3H356.7M351.2 104.3V106.3M356.7 104.3V106.3" stroke="#333333" stroke-width="0.6" fill="none"/>
<polygon points="325.2,103.7 329.2,103.7 327.2,107.2" fill="#0000ff"/>
<polygon points="328.0,103.3 328.0,107.3 331.6,105.3" fill="#45b1ea"/>
<polygon points="337.9,106.9 341.9,106.9 339.9,103.4" fill="#5a5a5a"/>
<circle cx="353.6" cy="105.3" r="1.55" fill="#000000"/>
<path d="M320.0 118.0H340.4M320.0 117.0V119.0M340.4 117.0V119.0" stroke="#3a3aff" stroke-width="0.6" fill="none"/>
<path d="M342.3 118.0H354.3M342.3 117.0V119.0M354.3 117.0V119.0" stroke="#62bff0" stroke-width="0.6" fill="none"/>
<path d="M372.0 118.0H384.0M372.0 117.0V119.0M384.0 117.0V119.0" stroke="#6a6a6a" stroke-width="0.6" fill="none"/>
<path d="M372.8 118.0H388.9M372.8 117.0V119.0M388.9 117.0V119.0" stroke="#333333" stroke-width="0.6" fill="none"/>
<polygon points="329.3,116.4 333.3,116.4 331.3,119.9" fill="#0000ff"/>
<polygon points="345.3,116.0 345.3,120.0 348.9,118.0" fill="#45b1ea"/>
<polygon points="376.3,119.6 380.3,119.6 378.3,116.1" fill="#5a5a5a"/>
<circle cx="382.4" cy="118.0" r="1.55" fill="#000000"/>
<path d="M329.6 130.7H351.9M329.6 129.7V131.7M351.9 129.7V131.7" stroke="#3a3aff" stroke-width="0.6" fill="none"/>
<path d="M361.3 130.7H374.0M361.3 129.7V131.7M374.0 129.7V131.7" stroke="#62bff0" stroke-width="0.6" fill="none"/>
<path d="M389.6 130.7H405.2M389.6 129.7V131.7M405.2 129.7V131.7" stroke="#6a6a6a" stroke-width="0.6" fill="none"/>
<path d="M390.8 130.7H406.4M390.8 129.7V131.7M406.4 129.7V131.7" stroke="#333333" stroke-width="0.6" fill="none"/>
<polygon points="338.4,129.1 342.4,129.1 340.4,132.6" fill="#0000ff"/>
<polygon points="365.7,128.7 365.7,132.7 369.3,130.7" fill="#45b1ea"/>
<polygon points="396.0,132.3 400.0,132.3 398.0,128.8" fill="#5a5a5a"/>
<circle cx="397.3" cy="130.7" r="1.55" fill="#000000"/>
<path d="M349.3 143.2H370.4M349.3 142.2V144.2M370.4 142.2V144.2" stroke="#3a3aff" stroke-width="0.6" fill="none"/>
<path d="M382.4 143.2H407.6M382.4 142.2V144.2M407.6 142.2V144.2" stroke="#62bff0" stroke-width="0.6" fill="none"/>
<path d="M415.0 143.2H429.2M415.0 142.2V144.2M429.2 142.2V144.2" stroke="#6a6a6a" stroke-width="0.6" fill="none"/>
<path d="M412.4 143.2H429.2M412.4 142.2V144.2M429.2 142.2V144.2" stroke="#333333" stroke-width="0.6" fill="none"/>
<polygon points="358.0,141.6 362.0,141.6 360.0,145.1" fill="#0000ff"/>
<polygon points="392.8,141.2 392.8,145.2 396.4,143.2" fill="#45b1ea"/>
<polygon points="420.0,144.8 424.0,144.8 422.0,141.3" fill="#5a5a5a"/>
<circle cx="419.6" cy="143.2" r="1.55" fill="#000000"/>
<path d="M323.6 155.7H334.4M323.6 154.7V156.7M334.4 154.7V156.7" stroke="#3a3aff" stroke-width="0.6" fill="none"/>
<path d="M367.3 155.7H380.7M367.3 154.7V156.7M380.7 154.7V156.7" stroke="#62bff0" stroke-width="0.6" fill="none"/>
<path d="M393.2 155.7H406.9M393.2 154.7V156.7M406.9 154.7V156.7" stroke="#6a6a6a" stroke-width="0.6" fill="none"/>
<path d="M393.2 155.7H406.9M393.2 154.7V156.7M406.9 154.7V156.7" stroke="#333333" stroke-width="0.6" fill="none"/>
<polygon points="326.9,154.1 330.9,154.1 328.9,157.6" fill="#0000ff"/>
<polygon points="372.4,153.7 372.4,157.7 376.0,155.7" fill="#45b1ea"/>
<polygon points="400.0,157.3 404.0,157.3 402.0,153.8" fill="#5a5a5a"/>
<circle cx="397.3" cy="155.7" r="1.55" fill="#000000"/>
<path d="M24.5 24.5V274.5H222.0" stroke="#8c8c8c" stroke-width="0.8" fill="none"/>
<line x1="30.42" y1="274.5" x2="30.42" y2="272.5" stroke="#8c8c8c" stroke-width="0.8"/>
<text transform="translate(30.42,284.2) scale(1,1.12)" font-size="7.35" text-anchor="middle" fill="#262626" class="t">&#8722;150</text>
<line x1="61.25" y1="274.5" x2="61.25" y2="272.5" stroke="#8c8c8c" stroke-width="0.8"/>
<text transform="translate(61.25,284.2) scale(1,1.12)" font-size="7.35" text-anchor="middle" fill="#262626" class="t">&#8722;100</text>
<line x1="92.08" y1="274.5" x2="92.08" y2="272.5" stroke="#8c8c8c" stroke-width="0.8"/>
<text transform="translate(92.08,284.2) scale(1,1.12)" font-size="7.35" text-anchor="middle" fill="#262626" class="t">&#8722;50</text>
<line x1="122.90" y1="274.5" x2="122.90" y2="272.5" stroke="#8c8c8c" stroke-width="0.8"/>
<text transform="translate(122.90,284.2) scale(1,1.12)" font-size="7.35" text-anchor="middle" fill="#262626" class="t">0</text>
<line x1="153.73" y1="274.5" x2="153.73" y2="272.5" stroke="#8c8c8c" stroke-width="0.8"/>
<text transform="translate(153.73,284.2) scale(1,1.12)" font-size="7.35" text-anchor="middle" fill="#262626" class="t">50</text>
<line x1="184.55" y1="274.5" x2="184.55" y2="272.5" stroke="#8c8c8c" stroke-width="0.8"/>
<text transform="translate(184.55,284.2) scale(1,1.12)" font-size="7.35" text-anchor="middle" fill="#262626" class="t">100</text>
<line x1="215.38" y1="274.5" x2="215.38" y2="272.5" stroke="#8c8c8c" stroke-width="0.8"/>
<text transform="translate(215.38,284.2) scale(1,1.12)" font-size="7.35" text-anchor="middle" fill="#262626" class="t">150</text>
<line x1="24.5" y1="274.5" x2="26.5" y2="274.5" stroke="#8c8c8c" stroke-width="0.8"/>
<text transform="translate(22.2,277.2) scale(1,1.12)" font-size="7.35" text-anchor="end" fill="#262626" class="t">14</text>
<line x1="24.5" y1="249.5" x2="26.5" y2="249.5" stroke="#8c8c8c" stroke-width="0.8"/>
<text transform="translate(22.2,252.2) scale(1,1.12)" font-size="7.35" text-anchor="end" fill="#262626" class="t">15</text>
<line x1="24.5" y1="224.5" x2="26.5" y2="224.5" stroke="#8c8c8c" stroke-width="0.8"/>
<text transform="translate(22.2,227.2) scale(1,1.12)" font-size="7.35" text-anchor="end" fill="#262626" class="t">16</text>
<line x1="24.5" y1="199.5" x2="26.5" y2="199.5" stroke="#8c8c8c" stroke-width="0.8"/>
<text transform="translate(22.2,202.2) scale(1,1.12)" font-size="7.35" text-anchor="end" fill="#262626" class="t">17</text>
<line x1="24.5" y1="174.5" x2="26.5" y2="174.5" stroke="#8c8c8c" stroke-width="0.8"/>
<text transform="translate(22.2,177.2) scale(1,1.12)" font-size="7.35" text-anchor="end" fill="#262626" class="t">18</text>
<line x1="24.5" y1="149.5" x2="26.5" y2="149.5" stroke="#8c8c8c" stroke-width="0.8"/>
<text transform="translate(22.2,152.2) scale(1,1.12)" font-size="7.35" text-anchor="end" fill="#262626" class="t">19</text>
<line x1="24.5" y1="124.5" x2="26.5" y2="124.5" stroke="#8c8c8c" stroke-width="0.8"/>
<text transform="translate(22.2,127.2) scale(1,1.12)" font-size="7.35" text-anchor="end" fill="#262626" class="t">20</text>
<line x1="24.5" y1="99.5" x2="26.5" y2="99.5" stroke="#8c8c8c" stroke-width="0.8"/>
<text transform="translate(22.2,102.2) scale(1,1.12)" font-size="7.35" text-anchor="end" fill="#262626" class="t">21</text>
<line x1="24.5" y1="74.5" x2="26.5" y2="74.5" stroke="#8c8c8c" stroke-width="0.8"/>
<text transform="translate(22.2,77.2) scale(1,1.12)" font-size="7.35" text-anchor="end" fill="#262626" class="t">22</text>
<line x1="24.5" y1="49.5" x2="26.5" y2="49.5" stroke="#8c8c8c" stroke-width="0.8"/>
<text transform="translate(22.2,52.2) scale(1,1.12)" font-size="7.35" text-anchor="end" fill="#262626" class="t">23</text>
<line x1="24.5" y1="24.5" x2="26.5" y2="24.5" stroke="#8c8c8c" stroke-width="0.8"/>
<text transform="translate(22.2,27.2) scale(1,1.12)" font-size="7.35" text-anchor="end" fill="#262626" class="t">24</text>
<text transform="translate(123.2,293.8) scale(1,1.1)" font-size="8.1" text-anchor="middle" fill="#262626" class="t">ΔCOS (ppt)</text>
<text transform="translate(12.3,149.8) rotate(-90) scale(1,1.1)" font-size="8.2" text-anchor="middle" fill="#262626" class="t">Altitude (km)</text>
<path d="M284.5 24.5V274.5H482.3" stroke="#8c8c8c" stroke-width="0.8" fill="none"/>
<line x1="290.55" y1="274.5" x2="290.55" y2="272.5" stroke="#8c8c8c" stroke-width="0.8"/>
<text transform="translate(290.55,284.2) scale(1,1.12)" font-size="7.35" text-anchor="middle" fill="#262626" class="t">&#8722;150</text>
<line x1="321.50" y1="274.5" x2="321.50" y2="272.5" stroke="#8c8c8c" stroke-width="0.8"/>
<text transform="translate(321.50,284.2) scale(1,1.12)" font-size="7.35" text-anchor="middle" fill="#262626" class="t">&#8722;100</text>
<line x1="352.45" y1="274.5" x2="352.45" y2="272.5" stroke="#8c8c8c" stroke-width="0.8"/>
<text transform="translate(352.45,284.2) scale(1,1.12)" font-size="7.35" text-anchor="middle" fill="#262626" class="t">&#8722;50</text>
<line x1="383.40" y1="274.5" x2="383.40" y2="272.5" stroke="#8c8c8c" stroke-width="0.8"/>
<text transform="translate(383.40,284.2) scale(1,1.12)" font-size="7.35" text-anchor="middle" fill="#262626" class="t">0</text>
<line x1="414.35" y1="274.5" x2="414.35" y2="272.5" stroke="#8c8c8c" stroke-width="0.8"/>
<text transform="translate(414.35,284.2) scale(1,1.12)" font-size="7.35" text-anchor="middle" fill="#262626" class="t">50</text>
<line x1="445.30" y1="274.5" x2="445.30" y2="272.5" stroke="#8c8c8c" stroke-width="0.8"/>
<text transform="translate(445.30,284.2) scale(1,1.12)" font-size="7.35" text-anchor="middle" fill="#262626" class="t">100</text>
<line x1="476.25" y1="274.5" x2="476.25" y2="272.5" stroke="#8c8c8c" stroke-width="0.8"/>
<text transform="translate(476.25,284.2) scale(1,1.12)" font-size="7.35" text-anchor="middle" fill="#262626" class="t">150</text>
<line x1="284.5" y1="274.5" x2="286.5" y2="274.5" stroke="#8c8c8c" stroke-width="0.8"/>
<text transform="translate(282.2,277.2) scale(1,1.12)" font-size="7.35" text-anchor="end" fill="#262626" class="t">14</text>
<line x1="284.5" y1="249.5" x2="286.5" y2="249.5" stroke="#8c8c8c" stroke-width="0.8"/>
<text transform="translate(282.2,252.2) scale(1,1.12)" font-size="7.35" text-anchor="end" fill="#262626" class="t">15</text>
<line x1="284.5" y1="224.5" x2="286.5" y2="224.5" stroke="#8c8c8c" stroke-width="0.8"/>
<text transform="translate(282.2,227.2) scale(1,1.12)" font-size="7.35" text-anchor="end" fill="#262626" class="t">16</text>
<line x1="284.5" y1="199.5" x2="286.5" y2="199.5" stroke="#8c8c8c" stroke-width="0.8"/>
<text transform="translate(282.2,202.2) scale(1,1.12)" font-size="7.35" text-anchor="end" fill="#262626" class="t">17</text>
<line x1="284.5" y1="174.5" x2="286.5" y2="174.5" stroke="#8c8c8c" stroke-width="0.8"/>
<text transform="translate(282.2,177.2) scale(1,1.12)" font-size="7.35" text-anchor="end" fill="#262626" class="t">18</text>
<line x1="284.5" y1="149.5" x2="286.5" y2="149.5" stroke="#8c8c8c" stroke-width="0.8"/>
<text transform="translate(282.2,152.2) scale(1,1.12)" font-size="7.35" text-anchor="end" fill="#262626" class="t">19</text>
<line x1="284.5" y1="124.5" x2="286.5" y2="124.5" stroke="#8c8c8c" stroke-width="0.8"/>
<text transform="translate(282.2,127.2) scale(1,1.12)" font-size="7.35" text-anchor="end" fill="#262626" class="t">20</text>
<line x1="284.5" y1="99.5" x2="286.5" y2="99.5" stroke="#8c8c8c" stroke-width="0.8"/>
<text transform="translate(282.2,102.2) scale(1,1.12)" font-size="7.35" text-anchor="end" fill="#262626" class="t">21</text>
<line x1="284.5" y1="74.5" x2="286.5" y2="74.5" stroke="#8c8c8c" stroke-width="0.8"/>
<text transform="translate(282.2,77.2) scale(1,1.12)" font-size="7.35" text-anchor="end" fill="#262626" class="t">22</text>
<line x1="284.5" y1="49.5" x2="286.5" y2="49.5" stroke="#8c8c8c" stroke-width="0.8"/>
<text transform="translate(282.2,52.2) scale(1,1.12)" font-size="7.35" text-anchor="end" fill="#262626" class="t">23</text>
<line x1="284.5" y1="24.5" x2="286.5" y2="24.5" stroke="#8c8c8c" stroke-width="0.8"/>
<text transform="translate(282.2,27.2) scale(1,1.12)" font-size="7.35" text-anchor="end" fill="#262626" class="t">24</text>
<text transform="translate(383.4,293.8) scale(1,1.1)" font-size="8.1" text-anchor="middle" fill="#262626" class="t">ΔCOS (ppt)</text>
<text transform="translate(272.3,149.8) rotate(-90) scale(1,1.1)" font-size="8.2" text-anchor="middle" fill="#262626" class="t">Altitude (km)</text>
<text transform="translate(10.8,10.6) rotate(0.01) scale(1,1.0)" x="0" y="0" font-size="8.1" font-weight="bold" text-rendering="geometricPrecision" textLength="224.0" lengthAdjust="spacingAndGlyphs" fill="#000" stroke="#000" stroke-width="0.18">(a) ΔCOS between intervals of AirCore measurements and</text>
<text transform="translate(22.2,21.4) rotate(0.01) scale(1,1.0)" x="0" y="0" font-size="8.1" font-weight="bold" text-rendering="geometricPrecision" textLength="200.6" lengthAdjust="spacingAndGlyphs" fill="#000" stroke="#000" stroke-width="0.18">2009 SPIRALE observations (Krysztofiak et al., 2015)</text>
<text transform="translate(271.2,10.6) rotate(0.01) scale(1,1.0)" x="0" y="0" font-size="8.1" font-weight="bold" text-rendering="geometricPrecision" textLength="224.0" lengthAdjust="spacingAndGlyphs" fill="#000" stroke="#000" stroke-width="0.18">(b) ΔCOS between intervals of AirCore measurements and</text>
<text transform="translate(282.6,21.4) rotate(0.01) scale(1,1.0)" x="0" y="0" font-size="8.1" font-weight="bold" text-rendering="geometricPrecision" textLength="200.6" lengthAdjust="spacingAndGlyphs" fill="#000" stroke="#000" stroke-width="0.18">2011 SPIRALE observations (Krysztofiak et al., 2015)</text>
<rect x="370.5" y="170.3" width="111.5" height="104.19999999999999" fill="#fff" stroke="#a8a8a8" stroke-width="0.8"/>
<rect x="371.8" y="172.0" width="9" height="5.6" fill="#fbd7d7"/>
<rect x="371.8" y="180.2" width="9" height="5.6" fill="#fbf7a8"/>
<text x="382" y="177.5" font-size="6.65" fill="#111">SPIRALE, 24/08/2009</text>
<text x="382" y="185.7" font-size="6.65" fill="#111">SPIRALE, 21/04/2011</text>
<path d="M374 192.8H379M374 191.9V193.70000000000002M379 191.9V193.70000000000002" stroke="#0000ff" stroke-width="0.6" fill="none"/>
<circle cx="376.5" cy="192.8" r="0.9" fill="#0000ff"/>
<text x="382" y="194.8" font-size="6.65" fill="#111">KRN, AC, Mg(ClO<tspan font-size="5.2" dy="2.2">4</tspan><tspan dy="-2.2">)</tspan><tspan font-size="5.2" dy="2.2">2</tspan><tspan dy="-2.2"></tspan></text>
<path d="M374 202.5H379M374 201.6V203.4M379 201.6V203.4" stroke="#4db8f0" stroke-width="0.6" fill="none"/>
<circle cx="376.5" cy="202.5" r="0.9" fill="#4db8f0"/>
<text x="382" y="204.5" font-size="6.65" fill="#111">KRN, AC, free inlet</text>
<path d="M374 212.0H379M374 211.1V212.9M379 211.1V212.9" stroke="#000" stroke-width="0.6" fill="none"/>
<circle cx="376.5" cy="212.0" r="0.9" fill="#000"/>
<text x="382" y="214.0" font-size="6.65" fill="#111">SOD1, AC, Mg(ClO<tspan font-size="5.2" dy="2.2">4</tspan><tspan dy="-2.2">)</tspan><tspan font-size="5.2" dy="2.2">2</tspan><tspan dy="-2.2"></tspan></text>
<path d="M374 222.7H379M374 221.79999999999998V223.6M379 221.79999999999998V223.6" stroke="#d4d4d4" stroke-width="0.6" fill="none"/>
<circle cx="376.5" cy="222.7" r="0.9" fill="#d4d4d4"/>
<text x="382" y="224.7" font-size="6.65" fill="#111">SOD3, AC, free inlet</text>
<path d="M374 230.8H379M374 229.9V231.70000000000002M379 229.9V231.70000000000002" stroke="#b4b4b4" stroke-width="0.6" fill="none"/>
<circle cx="376.5" cy="230.8" r="0.9" fill="#b4b4b4"/>
<text x="382" y="232.8" font-size="6.65" fill="#111">SOD3, AC, cotton</text>
<path d="M374 239.7H379M374 238.79999999999998V240.6M379 238.79999999999998V240.6" stroke="#505050" stroke-width="0.6" fill="none"/>
<circle cx="376.5" cy="239.7" r="0.9" fill="#505050"/>
<text x="382" y="241.7" font-size="6.65" fill="#111">SOD5, AC, Mg(ClO<tspan font-size="5.2" dy="2.2">4</tspan><tspan dy="-2.2">)</tspan><tspan font-size="5.2" dy="2.2">2</tspan><tspan dy="-2.2"> and cotton</tspan></text>
<path d="M374 250.6H379M374 249.7V251.5M379 249.7V251.5" stroke="#ff0000" stroke-width="0.6" fill="none"/>
<circle cx="376.5" cy="250.6" r="0.9" fill="#ff0000"/>
<text x="382" y="252.6" font-size="6.65" fill="#111">SOD2, LISA, Mg(ClO<tspan font-size="5.2" dy="2.2">4</tspan><tspan dy="-2.2">)</tspan><tspan font-size="5.2" dy="2.2">2</tspan><tspan dy="-2.2"></tspan></text>
<path d="M374 261.7H379M374 260.8V262.59999999999997M379 260.8V262.59999999999997" stroke="#ff0000" stroke-width="0.6" fill="none"/>
<circle cx="376.5" cy="261.7" r="0.9" fill="#ff0000"/>
<text x="382" y="263.7" font-size="6.65" fill="#111">SOD3, LISA, free inlet</text>
<circle cx="376.5" cy="270.0" r="0.9" fill="#ff3030"/>
<text x="382" y="272.0" font-size="6.65" fill="#111">SOD4, LISA, cotton</text>
</svg></body></html>
